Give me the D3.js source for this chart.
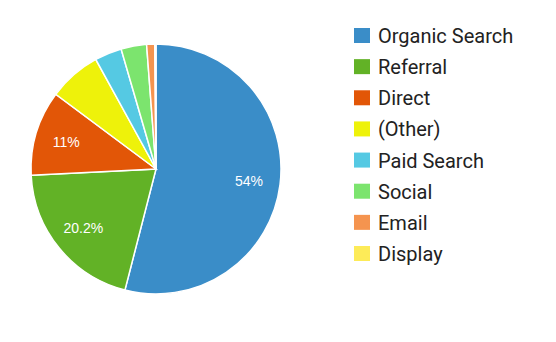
<!DOCTYPE html>
<html>
<head>
    <meta charset="utf-8">
    <title>Traffic channels</title>
    <script src="https://d3js.org/d3.v7.min.js"></script>
    <style>
        body { margin: 0; background: #fff; }
        svg { display: block; }
    </style>
</head>
<body>
<svg id="chart" width="556" height="342"></svg>
<script>
    var channels = ["Organic Search", "Referral", "Direct", "(Other)", "Paid Search", "Social", "Email", "Display"];
    var shares = [54.0, 20.2, 11.0, 6.8, 3.5, 3.3, 1.05, 0.15];
    var colors = ["#3a8dc8", "#62b226", "#e25607", "#eef20a", "#55c9e3", "#7ce46e", "#f5944f", "#fdeb58"];
    var labelText = ["54%", "20.2%", "11%", "", "", "", "", ""];

    var svg = d3.select("#chart");
    var cx = 156, cy = 169, r = 125;

    var pie = d3.pie().sort(null).value(function(d) { return d; });
    var arc = d3.arc().innerRadius(0).outerRadius(r);
    var labelArc = d3.arc().innerRadius(r * 0.75).outerRadius(r * 0.75);

    var color = d3.scaleOrdinal().domain(channels).range(colors);
    var arcs = pie(shares);

    var g = svg.append("g").attr("transform", "translate(" + cx + "," + cy + ")");

    g.selectAll("path")
        .data(arcs)
        .enter().append("path")
        .attr("d", arc)
        .attr("fill", function(d, i) { return color(channels[i]); })
        .attr("stroke", "#fff")
        .attr("stroke-width", 1.5);

    g.selectAll("text")
        .data(arcs)
        .enter().append("text")
        .attr("transform", function(d) { return "translate(" + labelArc.centroid(d) + ")"; })
        .attr("text-anchor", "middle")
        .attr("dy", "0.36em")
        .style("font-family", "Arial, 'Liberation Sans', sans-serif")
        .style("font-size", "14px")
        .style("fill", "#fff")
        .text(function(d, i) { return labelText[i]; });

    // legend
    var y = d3.scalePoint().domain(channels).range([36, 254]);

    var legend = svg.append("g")
        .selectAll("g")
        .data(channels)
        .enter().append("g")
        .attr("transform", function(d) { return "translate(354," + y(d) + ")"; });

    legend.append("rect")
        .attr("x", 0)
        .attr("y", -8)
        .attr("width", 16)
        .attr("height", 15)
        .attr("fill", function(d) { return color(d); });

    legend.append("text")
        .attr("x", 24)
        .attr("dy", "0.35em")
        .style("font-family", "Roboto, sans-serif")
        .style("font-size", "20px")
        .style("fill", "#222")
        .text(function(d) { return d; });
</script>
</body>
</html>
